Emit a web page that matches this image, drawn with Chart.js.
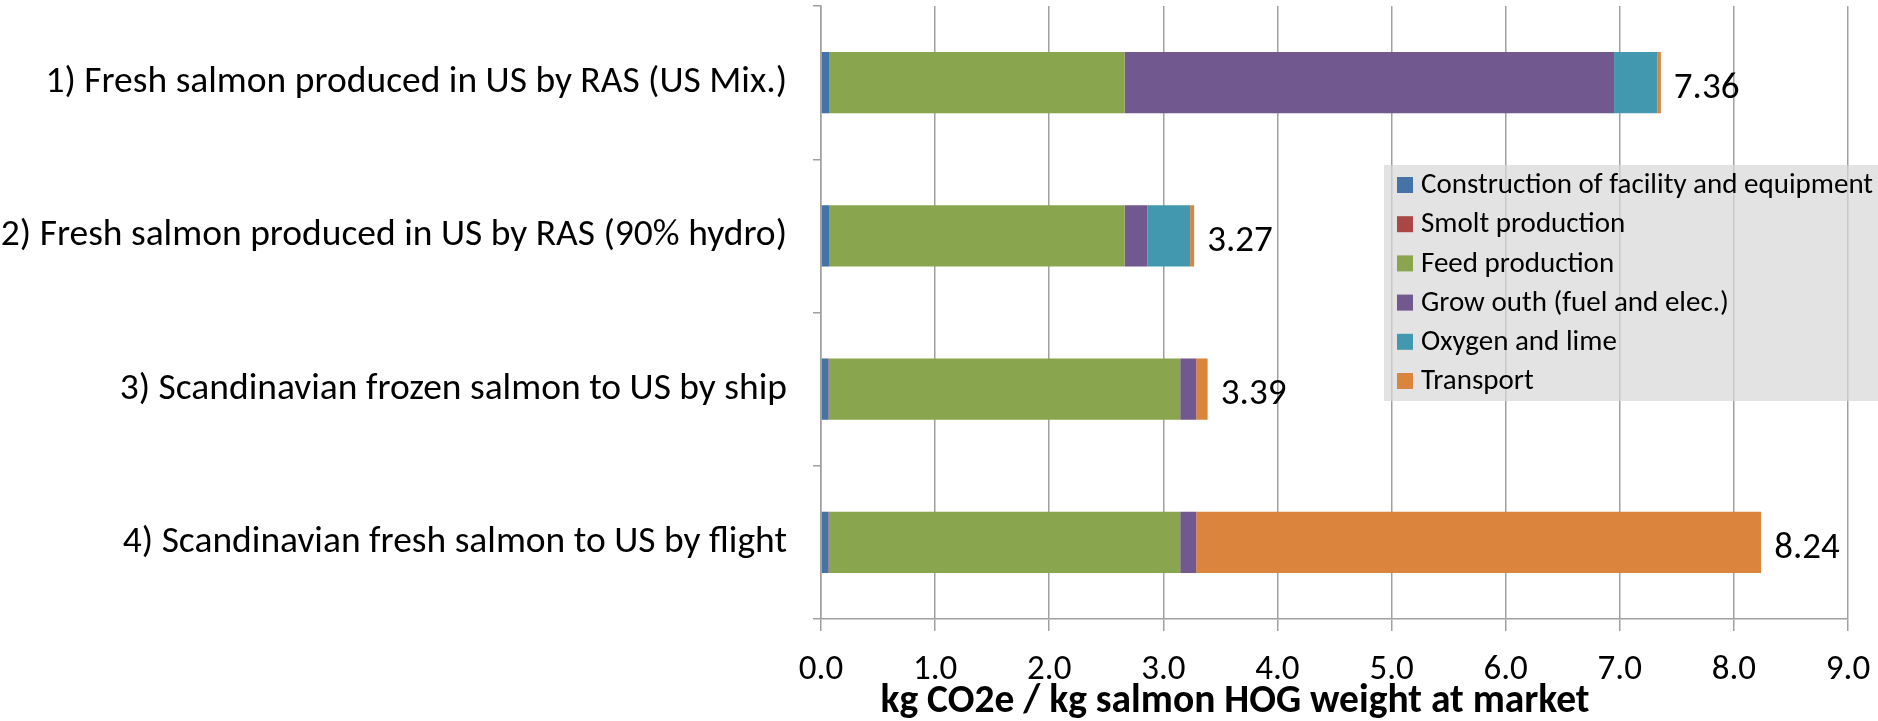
<!DOCTYPE html>
<html><head><meta charset="utf-8">
<script src="https://cdn.jsdelivr.net/npm/chart.js@4.4.1/dist/chart.umd.min.js"></script>
<style>html,body{margin:0;padding:0;background:#fff;overflow:hidden}#wrap{width:1878px;height:721px;position:relative}</style>
</head><body><div id="wrap"><canvas id="c" width="1878" height="721"></canvas></div>
<script>
const categories = [
  '1) Fresh salmon produced in US by RAS (US Mix.)',
  '2) Fresh salmon produced in US by RAS (90% hydro)',
  '3) Scandinavian frozen salmon to US by ship',
  '4) Scandinavian fresh salmon to US by flight'
];
const seriesNames = [
  'Construction of facility and equipment',
  'Smolt production',
  'Feed production',
  'Grow outh (fuel and elec.)',
  'Oxygen and lime',
  'Transport'
];
const construction = [0.07, 0.07, 0.065, 0.065];
const smolt        = [0.005, 0.005, 0.01, 0.01];
const feed         = [2.585, 2.585, 3.073, 3.073];
const growOut      = [4.29, 0.20, 0.14, 0.14];
const oxygen       = [0.38, 0.375, 0, 0];
const transport    = [0.03, 0.035, 0.10, 4.95];
const totals       = [7.36, 3.27, 3.39, 8.24];
const xTickLabels  = ['0.0','1.0','2.0','3.0','4.0','5.0','6.0','7.0','8.0','9.0'];
const xAxisTitle   = 'kg CO2e / kg salmon HOG weight at market';

const FONT = "Carlito, Lato, 'Open Sans', sans-serif";
const colors = ['#4572A7','#AA4643','#89A54E','#71588F','#4198AF','#DB843D'];
const seriesData = [construction, smolt, feed, growOut, oxygen, transport];
const GRID = '#a0a0a0';

const datasets = seriesNames.map((n, i) => ({
  label: n,
  data: seriesData[i],
  backgroundColor: colors[i],
  borderWidth: 0,
  categoryPercentage: 1.0,
  barPercentage: 0.4
}));

const extras = {
  id: 'extras',
  afterDatasetsDraw(chart) {
    const ctx = chart.ctx, xs = chart.scales.x, ys = chart.scales.y;
    ctx.save();
    ctx.fillStyle = '#000';
    ctx.font = `37px ${FONT}`;
    ctx.textAlign = 'left';
    ctx.textBaseline = 'middle';
    totals.forEach((t, i) => {
      ctx.fillText(t.toFixed(2), xs.getPixelForValue(t) + 13, ys.getPixelForValue(i) + 6);
    });
    // axis title
    ctx.font = `bold 39.5px ${FONT}`;
    ctx.textAlign = 'center';
    ctx.textBaseline = 'alphabetic';
    ctx.fillText(xAxisTitle, 1235, 712);
    // legend
    const lx = 1384, ly = 165, lw = 600, lh = 236;
    ctx.fillStyle = 'rgba(216,216,216,0.72)';
    ctx.fillRect(lx, ly, lw, lh);
    ctx.font = `29px ${FONT}`;
    ctx.textAlign = 'left';
    ctx.textBaseline = 'middle';
    seriesNames.forEach((n, i) => {
      const y = 177 + i * 39.2;
      ctx.fillStyle = colors[i];
      ctx.fillRect(1397, y, 16, 16);
      ctx.fillStyle = '#000';
      ctx.fillText(n, 1421, y + 9);
    });
    ctx.restore();
  }
};

new Chart(document.getElementById('c'), {
  type: 'bar',
  data: { labels: categories, datasets },
  options: {
    indexAxis: 'y',
    responsive: false,
    animation: false,
    devicePixelRatio: 1,
    layout: { padding: { top: 6, right: 30, bottom: 0, left: 0 } },
    plugins: { legend: { display: false }, tooltip: { enabled: false }, title: { display: false } },
    scales: {
      x: {
        stacked: true, min: 0, max: 9,
        ticks: { stepSize: 1, callback: (v, i) => xTickLabels[i], font: { family: FONT, size: 35 }, color: '#000', padding: 18, maxRotation: 0 },
        grid: { color: GRID, lineWidth: 1.5, tickLength: 12 },
        border: { color: GRID, width: 1.5 },
        afterFit: s => { s.height = 102; s.paddingLeft = 0; s.paddingRight = 0; }
      },
      y: {
        stacked: true,
        ticks: { font: { family: FONT, size: 37.5 }, color: '#000', padding: 26 },
        grid: { offset: true, drawOnChartArea: false, tickLength: 8, color: GRID, lineWidth: 1.5 },
        border: { color: GRID, width: 1.5 },
        afterFit: s => { s.width = 821; s.paddingTop = 0; s.paddingBottom = 0; }
      }
    }
  },
  plugins: [extras]
});
</script></body></html>
